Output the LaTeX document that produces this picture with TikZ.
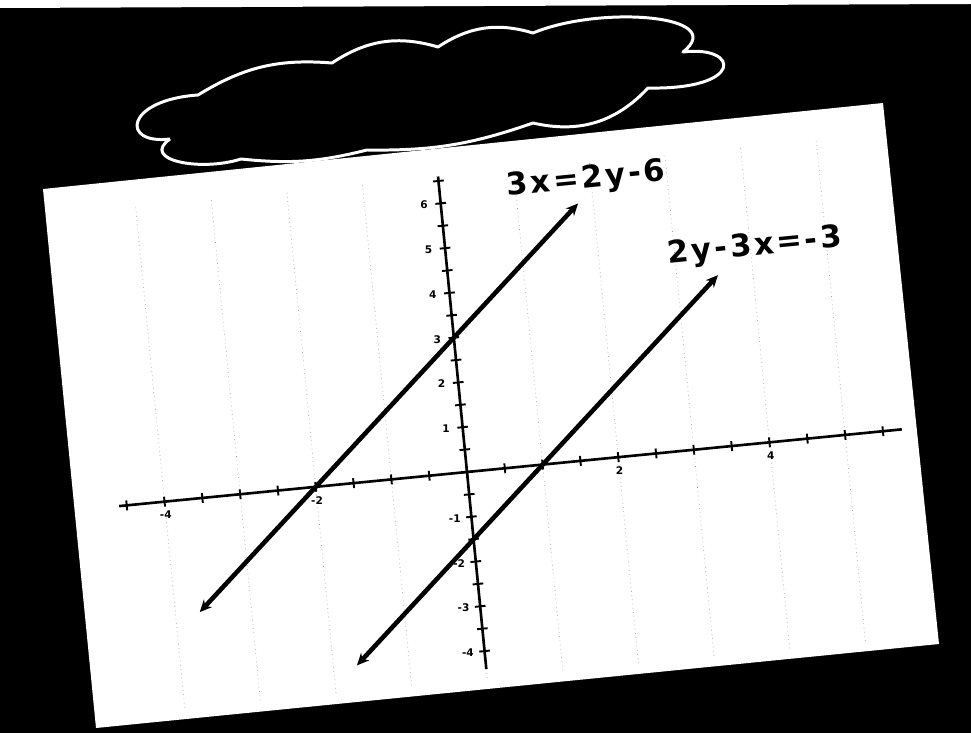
\documentclass[tikz,border=0pt]{standalone}
\usepackage{fontspec}
\setmainfont{DejaVu Sans}
\newfontfamily\eqfont[LetterSpace=9]{DejaVu Sans}
\usetikzlibrary{arrows.meta}

\begin{document}
\begin{tikzpicture}[
  x=0.02cm, y=-0.02cm,
  cloudline/.style={draw=white, line width=1.7pt, line join=round},
  axis/.style={black, line width=1.5pt},
  tick/.style={black, line width=1.1pt},
  gridline/.style={black!35, dotted, line width=0.4pt},
  arr/.style={{Stealth[length=2.4mm,width=2.2mm]}-{Stealth[length=2.4mm,width=2.2mm]}, line width=2.6pt},
  eqn/.style={font=\eqfont\bfseries\fontsize{17.5}{20}\selectfont, rotate=5.6, inner sep=0pt},
  num/.style={font=\bfseries\fontsize{6}{7}\selectfont, inner sep=0pt},
]
\fill[black] (0,0) rectangle (971,733);
\fill[white] (0,0) -- (971,0) -- (971,4) -- (0,8) -- cycle;
\fill[white] (43,189) -- (883,103) -- (939,644) -- (96,728) -- cycle;

\draw[cloudline] (170,139) .. controls (120,145) and (125,100) .. (198,95)
  to[bend left=18] (332,63) to[bend left=25] (438,47) to[bend left=25] (533,33)
  .. controls (600,5) and (730,15) .. (683,52)
  .. controls (740,45) and (745,90) .. (648,88)
  to[bend left=30] (533,123) to[bend left=10] (367,150) to[bend left=10] (241,159)
  .. controls (200,172) and (140,160) .. (170,139);

\begin{scope}[shift={(467,472)}, rotate=5.6, x=1.52cm, y=0.9cm]
  \foreach \g in {-4,...,5}
    \draw[gridline] (\g,-4.6) -- (\g,6.6);
  \coordinate (xl) at (-4.6,0);
  \coordinate (xr) at (5.75,0);
  \coordinate (yb) at (0,-4.4);
  \coordinate (yt) at (0,6.6);
  \draw[axis] (xl) -- (xr);
  \draw[axis] (yb) -- (yt);
  \foreach \t in {-4.5,-4,...,5.5}
    \draw[tick] (\t,-0.11) -- (\t,0.11);
  \foreach \t in {-4,-3.5,...,6.5}
    \draw[tick] (-0.07,\t) -- (0.07,\t);
  \foreach \v in {-4,-3,-2,-1,1,2,3,4,5,6}
    \node[num] (yl\v) at (-0.22,\v) {\v};
  \foreach \v in {-4,-2,2,4}
    \node[num] (xl\v) at (\v,-0.3) {\v};
  \coordinate (pA) at (-3.68,-2.52);
  \coordinate (qA) at (1.8,5.7);
  \coordinate (pB) at (-1.69,-4.04);
  \coordinate (qB) at (3.54,3.81);
  \draw[arr] (pA) -- (qA);
  \draw[arr] (pB) -- (qB);
\end{scope}

\node[eqn] (eqA) at (586,180) {3x=2y-6};
\node[eqn] (eqB) at (755,247) {2y-3x=-3};
\end{tikzpicture}
\end{document}
